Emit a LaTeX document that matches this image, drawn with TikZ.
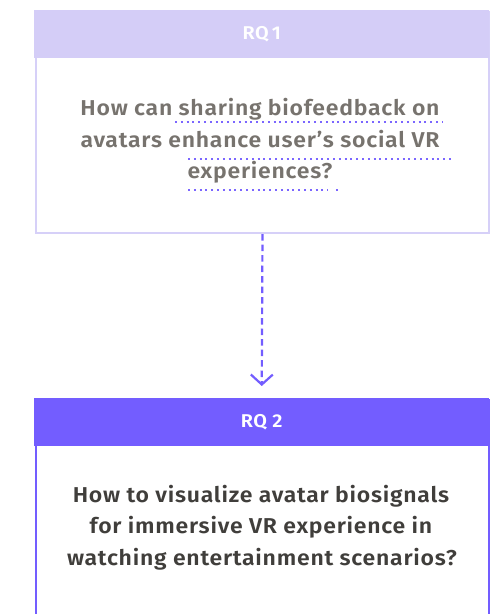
\documentclass[tikz,border=0pt]{standalone}
\usepackage{fontspec}
\setmainfont{Fira Sans}[BoldFont={Fira Sans SemiBold}]
\newfontfamily\qfont{Fira Sans SemiBold}[FakeStretch=1.07, LetterSpace=3.5]
\usetikzlibrary{arrows.meta}
\definecolor{lavhead}{HTML}{D4CDF7}
\definecolor{lavline}{HTML}{D6D0F8}
\definecolor{violet}{HTML}{735DFF}
\definecolor{dotviolet}{HTML}{7B66FF}
\definecolor{softgray}{HTML}{77736E}
\definecolor{darkgray}{HTML}{403E3B}
\begin{document}
\begin{tikzpicture}[x=1pt,y=-1pt,
  frame/.style={draw=#1, line width=2pt, inner sep=0pt, anchor=north west,
    minimum width=453pt},
  header/.style={fill=#1, inner sep=0pt, anchor=north west,
    minimum width=455pt, minimum height=48pt, text=white,
    font=\qfont\fontsize{18.5}{22}\selectfont},
  qline/.style={anchor=base, inner sep=0pt, text=#1,
    font=\qfont\fontsize{21.5}{26}\selectfont},
  spell/.style={dotviolet, line width=2pt, dash pattern=on 2pt off 3.8pt},
  link/.style={violet, line width=2.2pt, dash pattern=on 6.5pt off 4pt,
    -{Straight Barb[length=10pt,width=22pt,line width=2.2pt]}}
]
\useasboundingbox (0,0) rectangle (497,614);

% first research question
\node[frame=lavline, minimum height=221pt] (box1) at (35,11) {};
\node[header=lavhead] (head1) at (34,10) {RQ\,1};
\node[qline=softgray] (q1a) at (260,115) {How can sharing biofeedback on};
\node[qline=softgray] (q1b) at (260,147) {avatars enhance user’s social VR};
\node[qline=softgray] (q1c) at (260,178) {experiences?};
\draw[spell] (175,122) -- (442,122);
\draw[spell] (188,159) -- (453,159);
\draw[spell] (188,190) -- (328,190);
\draw[spell] (336,190) -- (338,190);

% second research question
\node[frame=violet, minimum height=300pt] (box2) at (35,399) {};
\node[header=violet] (head2) at (34,398) {RQ 2};
\node[qline=darkgray] (q2a) at (261,502) {How to visualize avatar biosignals};
\node[qline=darkgray] (q2b) at (261,533) {for immersive VR experience in};
\node[qline=darkgray] (q2c) at (262,565) {watching entertainment scenarios?};

% dependency between the two questions
\draw[link, shorten >=12pt] (box1.south) -- (head2.north);
\end{tikzpicture}
\end{document}
